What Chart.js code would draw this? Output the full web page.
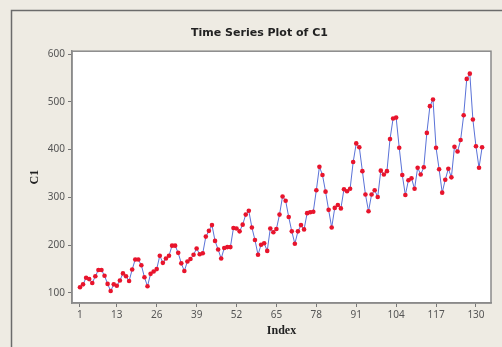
<!DOCTYPE html>
<html>
<head>
<meta charset="utf-8">
<script src="https://cdn.jsdelivr.net/npm/chart.js@4/dist/chart.umd.min.js"></script>
<style>
  html, body { margin: 0; padding: 0; background: #eeebe3; }
  #wrap { width: 502px; height: 347px; }
</style>
</head>
<body>
<div id="wrap"><canvas id="myChart" width="502" height="347"></canvas></div>
<script>
// monthly values C1 (index 1..132)
var c1_values = [
  112, 118, 132, 129, 121, 135, 148, 148, 136, 119, 104, 118,
  115, 126, 141, 135, 125, 149, 170, 170, 158, 133, 114, 140,
  145, 150, 178, 163, 172, 178, 199, 199, 184, 162, 146, 166,
  171, 180, 193, 181, 183, 218, 230, 242, 209, 191, 172, 194,
  196, 196, 236, 235, 229, 243, 264, 272, 237, 211, 180, 201,
  204, 188, 235, 227, 234, 264, 302, 293, 259, 229, 203, 229,
  242, 233, 267, 269, 270, 315, 364, 347, 312, 274, 237, 278,
  284, 277, 317, 313, 318, 374, 413, 405, 355, 306, 271, 306,
  315, 301, 356, 348, 355, 422, 465, 467, 404, 347, 305, 336,
  340, 318, 362, 348, 363, 435, 491, 505, 404, 359, 310, 337,
  360, 342, 406, 396, 420, 472, 548, 559, 463, 407, 362, 405
];
var x_ticks = [1, 13, 26, 39, 52, 65, 78, 91, 104, 117, 130];
var y_ticks = [100, 200, 300, 400, 500, 600];

var points = [];
for (var i = 0; i < c1_values.length; i++) {
    points.push({ x: i + 1, y: c1_values[i] });
}

// background, outer frame and plot box
var framePlugin = {
    id: 'frame',
    beforeDraw: function(chart) {
        var c = chart.ctx, a = chart.chartArea;
        c.save();
        c.fillStyle = '#eeebe3';
        c.fillRect(0, 0, chart.width, chart.height);
        c.strokeStyle = '#6b6b6b';
        c.lineWidth = 1.5;
        c.strokeRect(11.5, 10.5, chart.width + 20, chart.height + 20);
        c.fillStyle = '#ffffff';
        c.fillRect(a.left, a.top, a.right - a.left, a.bottom - a.top);
        c.restore();
    },
    afterDraw: function(chart) {
        var c = chart.ctx, a = chart.chartArea;
        c.save();
        c.strokeStyle = '#8a8a8a';
        c.lineWidth = 1.5;
        c.strokeRect(a.left, a.top, a.right - a.left, a.bottom - a.top);
        c.restore();
    }
};

var tickFont = { family: 'Noto Sans', size: 10 };
var labelFont = { family: 'Liberation Serif', size: 12, weight: 'bold' };

var ctx = document.getElementById('myChart').getContext('2d');
var myChart = new Chart(ctx, {
    type: 'scatter',
    data: {
        datasets: [{
            label: 'C1',
            data: points,
            showLine: true,
            borderColor: '#5a72d8',
            borderWidth: 1,
            pointBackgroundColor: '#e8142c',
            pointBorderColor: '#e8142c',
            pointRadius: 2.3,
            pointBorderWidth: 0
        }]
    },
    options: {
        responsive: false,
        animation: false,
        layout: { padding: { left: 28, right: 11, top: 0, bottom: 0 } },
        plugins: {
            legend: { display: false },
            tooltip: { enabled: false },
            title: {
                display: true,
                text: 'Time Series Plot of C1',
                color: '#222',
                font: { family: 'DejaVu Sans', size: 11, weight: 'bold' },
                padding: { top: 27, bottom: 11 }
            }
        },
        scales: {
            x: {
                type: 'linear',
                min: -1.6,
                max: 134.9,
                afterBuildTicks: function(scale) {
                    scale.ticks = x_ticks.map(function(v) { return { value: v }; });
                },
                afterFit: function(scale) { scale.height = 44; },
                grid: { drawOnChartArea: false, drawTicks: true, tickLength: 4, color: '#777' },
                border: { display: true, color: '#8a8a8a', width: 1.5 },
                ticks: { color: '#555', font: tickFont, padding: 2, maxRotation: 0 },
                title: { display: true, text: 'Index', color: '#222', font: labelFont, padding: { top: 0, bottom: 9 } }
            },
            y: {
                min: 79,
                max: 606,
                afterBuildTicks: function(scale) {
                    scale.ticks = y_ticks.map(function(v) { return { value: v }; });
                },
                afterFit: function(scale) { scale.width = 44; },
                grid: { drawOnChartArea: false, drawTicks: true, tickLength: 4, color: '#777' },
                border: { display: true, color: '#8a8a8a', width: 1.5 },
                ticks: { color: '#555', font: tickFont, padding: 3 },
                title: { display: true, text: 'C1', color: '#222', font: labelFont, padding: 0 }
            }
        }
    },
    plugins: [framePlugin]
});
</script>
</body>
</html>
